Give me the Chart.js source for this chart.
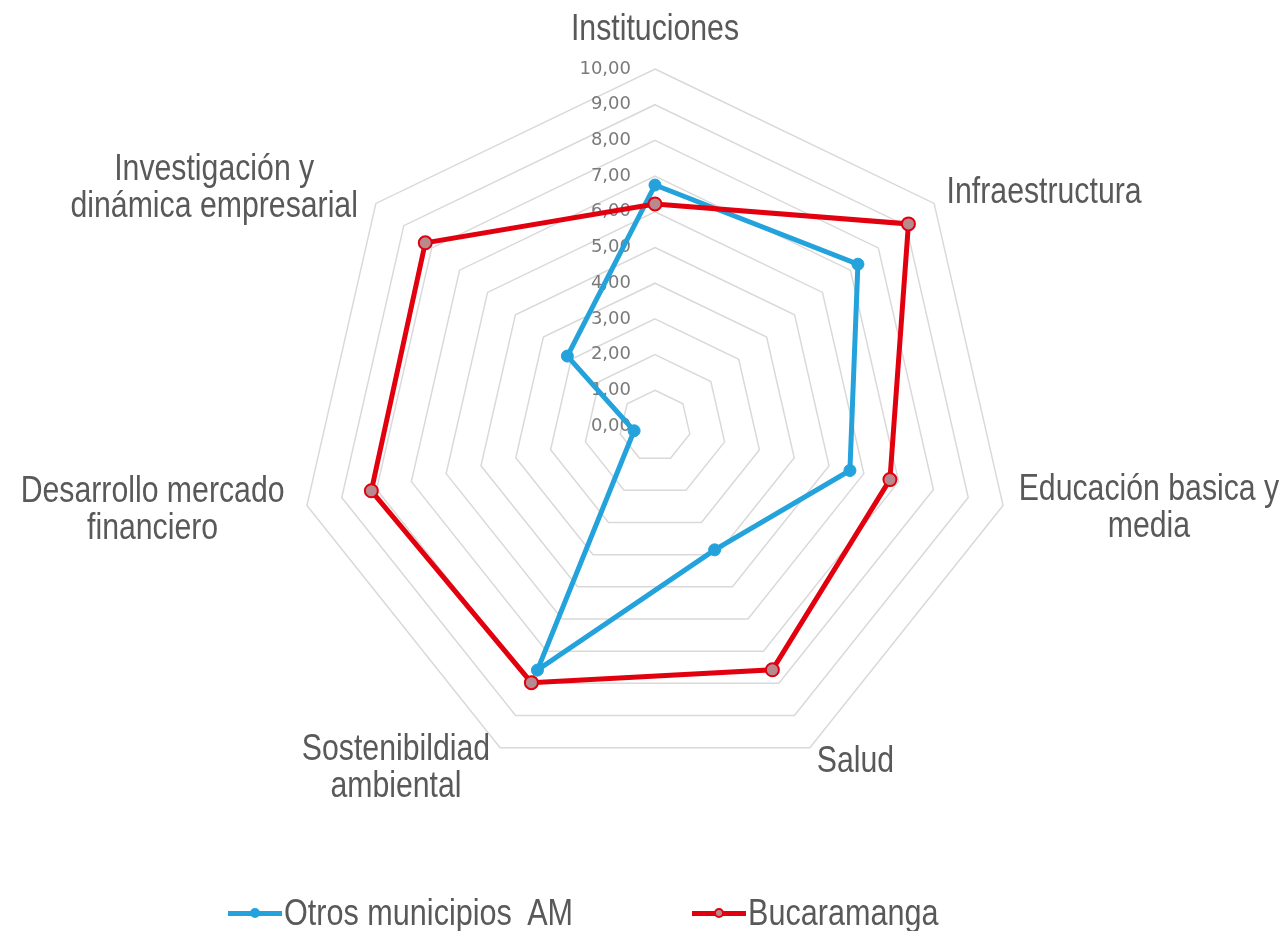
<!DOCTYPE html>
<html lang="es">
<head>
<meta charset="utf-8">
<title>Radar - Bucaramanga vs Otros municipios AM</title>
<script src="https://cdn.jsdelivr.net/npm/chart.js@4.4.1/dist/chart.umd.min.js"></script>
<style>
  html, body { margin: 0; padding: 0; background: #fff; }
  #wrap { position: relative; width: 1288px; height: 931px; }
  #legend {
    position: absolute; left: 0; top: 890px; width: 1288px; height: 46px;
    font-family: "Liberation Sans", Arial, sans-serif;
  }
  .item {
    position: absolute; top: 0; height: 46px; display: flex; align-items: center;
    white-space: pre; font-size: 36px; color: #595959;
  }
  .item span.txt { display: inline-block; transform: scaleX(0.85); transform-origin: left center; }
  .swatch { position: relative; width: 54px; height: 5px; margin-right: 2px; }
  .swatch i {
    position: absolute; left: 50%; top: 50%; width: 10px; height: 10px; border-radius: 50%;
    transform: translate(-50%, -50%); box-sizing: border-box;
  }
</style>
</head>
<body>
<div id="wrap">
  <canvas id="radarChart"></canvas>
  <div id="legend"></div>
</div>
<script>
// ---- Data ----
const categories = [
    'Instituciones',
    'Infraestructura',
    ['Educación basica y', 'media'],
    'Salud',
    ['Sostenibildiad', 'ambiental'],
    ['Desarrollo mercado', 'financiero'],
    ['Investigación y', 'dinámica empresarial']
];
const otrosMunicipios = [6.75, 7.27, 5.60, 3.85, 7.59, 0.60, 3.14];
const bucaramanga = [6.22, 9.08, 6.75, 7.58, 7.98, 8.15, 8.23];
const tickValues = [0, 1, 2, 3, 4, 5, 6, 7, 8, 9, 10];
const seriesNames = ['Otros municipios  AM', 'Bucaramanga'];

const BLUE = '#23a2db';
const RED = '#e2000f';
const RED_MARKER = '#b88a8e';
const TEXT_GRAY = '#595959';
const NARROW_X = 0.84; // no narrow font installed, squeeze Liberation Sans instead

// Tick labels drawn left of the vertical axis (under the lines)
const tickLabels = {
    id: 'tickLabels',
    beforeDatasetsDraw(chart) {
        const scale = chart.scales.r;
        const ctx = chart.ctx;
        ctx.save();
        ctx.font = '18px "DejaVu Sans", sans-serif';
        ctx.fillStyle = '#7a7a7a';
        ctx.textAlign = 'right';
        ctx.textBaseline = 'middle';
        tickValues.forEach(v => {
            const d = scale.getDistanceFromCenterForValue(v);
            ctx.fillText(v.toFixed(2).replace('.', ','), scale.xCenter - 24, scale.yCenter - d);
        });
        ctx.restore();
    }
};

// Category labels, multi-line centred inside their block
const categoryLabels = {
    id: 'categoryLabels',
    afterDraw(chart) {
        const scale = chart.scales.r;
        const ctx = chart.ctx;
        const lineH = 37;
        ctx.save();
        ctx.font = '36px "Liberation Sans", Arial, sans-serif';
        ctx.fillStyle = TEXT_GRAY;
        ctx.textAlign = 'center';
        ctx.textBaseline = 'middle';
        categories.forEach((label, i) => {
            const lines = Array.isArray(label) ? label : [label];
            const probe = scale.getPointPosition(i, 1);
            const cos = Math.cos(probe.angle);
            let pad = 16;
            if (cos < -0.05) pad = 23;
            if (Math.abs(cos) < 0.05) pad = 20;
            const pt = scale.getPointPosition(i, scale.drawingArea + pad);
            const w = Math.max(...lines.map(l => ctx.measureText(l).width)) * NARROW_X;
            let cx = pt.x;
            if (cos > 0.05) cx = pt.x + w / 2;
            else if (cos < -0.05) cx = pt.x - w / 2;
            const blockH = lines.length * lineH;
            let top = pt.y - blockH / 2;
            if (Math.abs(cos) < 0.05) top = pt.y - blockH;
            lines.forEach((l, k) => {
                ctx.save();
                ctx.translate(cx, top + lineH * (k + 0.5));
                ctx.scale(NARROW_X, 1);
                ctx.fillText(l, 0, 0);
                ctx.restore();
            });
        });
        ctx.restore();
    }
};

const ctx = document.getElementById('radarChart');
ctx.width = 1288;
ctx.height = 931;

new Chart(ctx, {
    type: 'radar',
    data: {
        labels: categories,
        datasets: [
            {
                label: seriesNames[0],
                data: otrosMunicipios,
                borderColor: BLUE,
                backgroundColor: 'transparent',
                borderWidth: 5,
                fill: false,
                pointRadius: 6,
                pointBackgroundColor: BLUE,
                pointBorderColor: BLUE,
                pointBorderWidth: 1,
                order: 2
            },
            {
                label: seriesNames[1],
                data: bucaramanga,
                borderColor: RED,
                backgroundColor: 'transparent',
                borderWidth: 5,
                fill: false,
                pointRadius: 6.5,
                pointBackgroundColor: RED_MARKER,
                pointBorderColor: RED,
                pointBorderWidth: 2,
                order: 1
            }
        ]
    },
    options: {
        responsive: false,
        animation: false,
        devicePixelRatio: 1,
        layout: { padding: { top: 69, bottom: 148, left: 22, right: 0 } },
        plugins: {
            legend: { display: false },
            tooltip: { enabled: false }
        },
        scales: {
            r: {
                min: 0,
                max: 10,
                ticks: { display: false, stepSize: 1 },
                grid: { color: '#d9d9d9', lineWidth: 1.5 },
                angleLines: { display: false },
                pointLabels: { display: false }
            }
        }
    },
    plugins: [tickLabels, categoryLabels]
});

// HTML legend
const legend = document.getElementById('legend');
const legendItems = [
    { name: seriesNames[0], color: BLUE, marker: BLUE, left: 228 },
    { name: seriesNames[1], color: RED, marker: RED_MARKER, left: 692 }
];
legendItems.forEach(it => {
    const el = document.createElement('div');
    el.className = 'item';
    el.style.left = it.left + 'px';
    el.innerHTML = '<span class="swatch" style="background:' + it.color + '"><i style="background:' +
        it.marker + ';border:2px solid ' + it.color + '"></i></span>';
    const txt = document.createElement('span');
    txt.className = 'txt';
    txt.textContent = it.name;
    el.appendChild(txt);
    legend.appendChild(el);
});
</script>
</body>
</html>
